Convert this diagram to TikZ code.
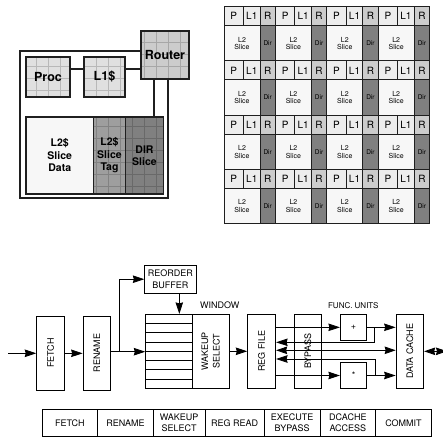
\documentclass[tikz,border=0pt]{standalone}
\usepackage{fontspec}
\setmainfont{TeX Gyre Heros}
\usetikzlibrary{arrows.meta,patterns}
\definecolor{tileink}{gray}{0.12}
\definecolor{procgray}{gray}{0.88}
\definecolor{routergray}{gray}{0.80}
\definecolor{taggray}{gray}{0.62}
\definecolor{dirgray}{gray}{0.50}
\definecolor{slicewhite}{gray}{0.97}
\pgfdeclarepatternformonly{tilegrid}{\pgfqpoint{-0.5pt}{-0.5pt}}{\pgfqpoint{12.5pt}{12.5pt}}{\pgfqpoint{12pt}{12pt}}{
  \pgfsetlinewidth{0.35pt}
  \pgfpathmoveto{\pgfqpoint{0pt}{0pt}}
  \pgfpathlineto{\pgfqpoint{12pt}{0pt}}
  \pgfpathmoveto{\pgfqpoint{0pt}{0pt}}
  \pgfpathlineto{\pgfqpoint{0pt}{12pt}}
  \pgfusepath{stroke}
}
\tikzset{
  gridded/.style={preaction={fill=#1}, pattern=tilegrid, pattern color=black!18!#1},
  chipbox/.style={draw=tileink, line width=1.3pt, inner sep=0pt, align=center, font=\fontsize{10.5}{12.5}\selectfont\bfseries},
  tilebox/.style={draw=tileink, line width=1pt, inner sep=0pt, align=center},
  stagebox/.style={draw=black, line width=0.8pt, inner sep=0pt, align=center, font=\fontsize{9}{11.5}\selectfont},
  chipwire/.style={draw=tileink, line width=1.5pt},
  flow/.style={draw=black, line width=0.8pt, -{Stealth[length=11.5pt,width=7.5pt,inset=1pt]}},
  flowboth/.style={draw=black, line width=0.8pt, {Stealth[length=11pt,width=7.5pt,inset=1pt]}-{Stealth[length=11pt,width=7.5pt,inset=1pt]}}
}
\begin{document}
\begin{tikzpicture}[x=1pt, y=-1pt]
  \useasboundingbox (0,0) rectangle (443,438);
  % single tile
  \coordinate (tilecorner) at (20,51);
  \coordinate (tileend) at (168,198);
  \coordinate (busline) at (0,69);
  \coordinate (dirtap) at (154,0);
  \node[chipbox, gridded=procgray, minimum width=44, minimum height=40, font=\fontsize{12.5}{14}\selectfont\bfseries] (proc) at (48,77) {Proc};
  \node[chipbox, gridded=procgray, minimum width=41, minimum height=40, font=\fontsize{12.5}{14}\selectfont\bfseries] (lone) at (104.5,77) {L1\$};
  \node[chipbox, gridded=routergray, minimum width=48, minimum height=48, font=\fontsize{12.5}{14}\selectfont\bfseries] (router) at (165,55) {Router};
  \node[chipbox, fill=slicewhite, minimum width=67.5, minimum height=77] (l2data) at (59.75,155.5) {L2\$\\Slice\\Data};
  \node[chipbox, gridded=taggray, minimum width=32, minimum height=77] (l2tag) at (109.5,155.5) {L2\$\\Slice\\Tag};
  \node[chipbox, gridded=dirgray, minimum width=38, minimum height=77] (dirslice) at (144.5,155.5) {DIR\\Slice};
  \draw[chipwire] (proc.east |- busline) -- (lone.west |- busline);
  \draw[chipwire] (lone.east |- busline) -- (router.west |- busline);
  \draw[chipwire] (router.south -| dirtap) -- (dirslice.north -| dirtap);
  \draw[chipwire, line width=1.8pt] (router.west |- tilecorner) -- (tilecorner) |- (tileend) -- (tileend |- router.south);
  % 4x4 array of tiles
  \foreach \col in {0,...,3} {
    \foreach \row in {0,...,3} {
      \pgfmathsetmacro{\tx}{224+51.4*\col}
      \pgfmathsetmacro{\ty}{6.7+54.3*\row}
      \node[tilebox, fill=slicewhite, minimum width=36, minimum height=35.3, font=\fontsize{7}{7.5}\selectfont] (slice\col\row) at (\tx+18,\ty+36.6) {L2\\Slice};
      \node[tilebox, fill=dirgray, minimum width=15.4, minimum height=35.3, font=\fontsize{6.5}{7}\selectfont] (dir\col\row) at (\tx+43.7,\ty+36.6) {Dir};
      \node[tilebox, fill=procgray!60!white, minimum width=19.5, minimum height=19, font=\fontsize{10}{11}\selectfont] (p\col\row) at (\tx+9.75,\ty+9.5) {P};
      \node[tilebox, fill=procgray!60!white, minimum width=16.5, minimum height=19, font=\fontsize{10}{11}\selectfont] (lone\col\row) at (\tx+27.75,\ty+9.5) {L1};
      \node[tilebox, fill=routergray, minimum width=15.4, minimum height=19, font=\fontsize{10}{11}\selectfont] (r\col\row) at (\tx+43.7,\ty+9.5) {R};
    }
  }
  % pipeline
  \coordinate (inflow) at (8,353.3);
  \coordinate (outflow) at (447,351.3);
  \coordinate (robturn) at (119,351.7);
  \coordinate (robtap) at (179.3,0);
  \coordinate (plusturn) at (374.3,327.3);
  \coordinate (multturn) at (375.7,375.7);
  \node[stagebox, minimum width=27.7, minimum height=74] (fetch) at (50.5,353) {\rotatebox{90}{FETCH}};
  \node[stagebox, minimum width=27.7, minimum height=74] (rename) at (96.9,353) {\rotatebox{90}{RENAME}};
  \node[stagebox, minimum width=51.3, minimum height=28.3] (rob) at (170.4,279.2) {REORDER\\BUFFER};
  \node[stagebox, minimum width=46.6, minimum height=74] (window) at (169,351.3) {};
  \node[stagebox, minimum width=36.7, minimum height=74] (wakeup) at (210.6,351.3) {\rotatebox{90}{\parbox{40pt}{\centering WAKEUP\\SELECT}}};
  \node[stagebox, minimum width=28, minimum height=74] (regfile) at (261.7,351.3) {\rotatebox{90}{REG FILE}};
  \node[stagebox, minimum width=27.7, minimum height=74] (bypass) at (307.9,351.3) {\rotatebox{90}{BYPASS}};
  \node[stagebox, minimum width=26.4, minimum height=26] (plus) at (353.5,327.3) {+};
  \node[stagebox, minimum width=26.4, minimum height=25.6] (mult) at (353.5,375.5) {*};
  \node[stagebox, minimum width=27.7, minimum height=74] (dcache) at (409.9,351.3) {\rotatebox{90}{DATA CACHE}};
  \node[font=\fontsize{9}{11}\selectfont] (windowlabel) at (219.7,305.7) {WINDOW};
  \node[font=\fontsize{8}{10}\selectfont] (funclabel) at (353.3,305.3) {FUNC. UNITS};
  \foreach \slot in {1,...,7} {
    \draw[black, line width=0.8pt] (window.west |- 0,{314.3+9.25*\slot}) -- (window.east |- 0,{314.3+9.25*\slot});
  }
  \draw[flow] (inflow) -- (fetch.west |- inflow);
  \draw[flow] (fetch.east |- inflow) -- (rename.west |- inflow);
  \draw[flow] (rename.east |- robturn) -- (window.west |- robturn);
  \draw[flow] (robturn) |- (rob.west);
  \draw[flow] (rob.south -| robtap) -- (window.north -| robtap);
  \draw[flow] (wakeup.east) -- (regfile.west);
  \draw[flow] (regfile.east |- plus) -- (plus.west);
  \draw[flow] (regfile.east |- mult) -- (mult.west);
  \draw[flow] (plus.east) -- (dcache.west |- plus);
  \draw[flow] (mult.east) -- (dcache.west |- mult);
  \draw[flow] (plusturn) -- (plusturn |- 0,342.3) -- (regfile.east |- 0,342.3);
  \draw[flow] (multturn) -- (multturn |- 0,359) -- (regfile.east |- 0,359);
  \draw[flowboth] (regfile.east |- 0,350.3) -- (dcache.west |- 0,350.3);
  \draw[flowboth] (dcache.east |- outflow) -- (outflow);
  % stage table
  \node[stagebox, minimum width=55.7, minimum height=27.7] (tfetch) at (69.85,422.85) {FETCH};
  \node[stagebox, minimum width=55.6, minimum height=27.7] (trename) at (125.5,422.85) {RENAME};
  \node[stagebox, minimum width=51.7, minimum height=27.7] (twakeup) at (179.15,422.85) {WAKEUP\\SELECT};
  \node[stagebox, minimum width=59.3, minimum height=27.7] (tregread) at (234.65,422.85) {REG READ};
  \node[stagebox, minimum width=55.7, minimum height=27.7] (texecute) at (292.15,422.85) {EXECUTE\\BYPASS};
  \node[stagebox, minimum width=55.7, minimum height=27.7] (tdcache) at (347.85,422.85) {DCACHE\\ACCESS};
  \node[stagebox, minimum width=55.6, minimum height=27.7] (tcommit) at (403.5,422.85) {COMMIT};
\end{tikzpicture}
\end{document}
